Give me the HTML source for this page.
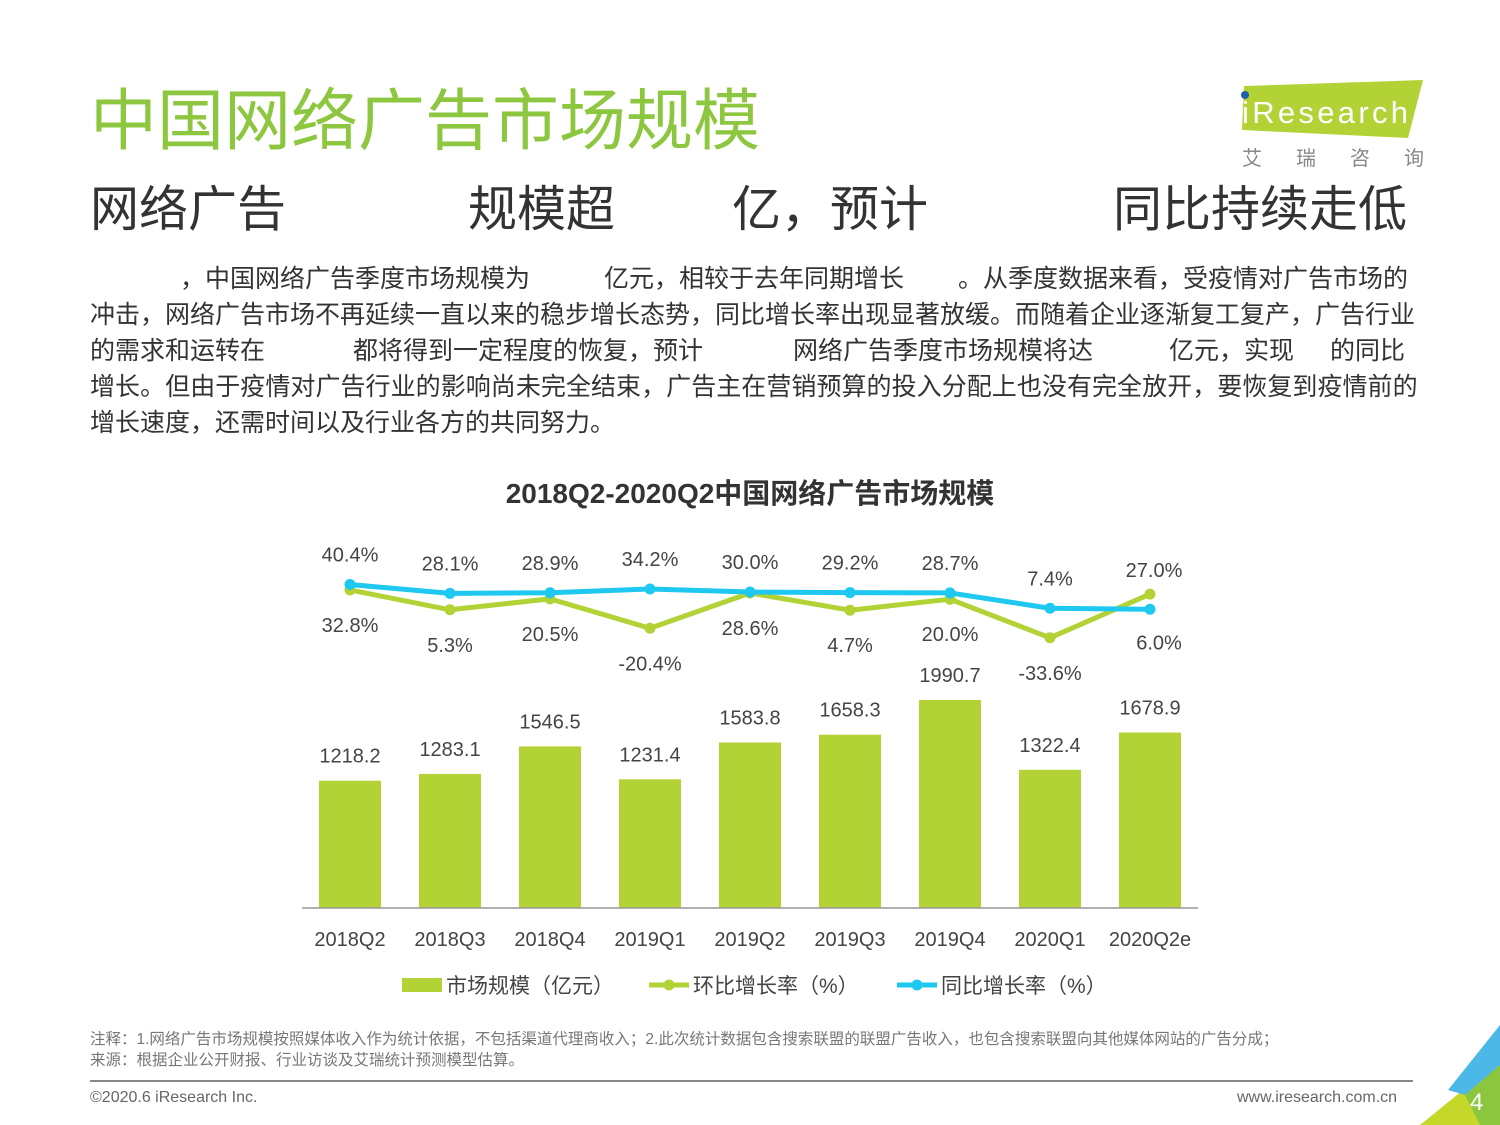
<!DOCTYPE html>
<html><head><meta charset="utf-8">
<style>
body{margin:0;width:1500px;height:1125px;position:relative;background:#fff;overflow:hidden;font-family:"Liberation Sans","Noto Sans CJK SC",sans-serif;color:#333}
.a{position:absolute;white-space:nowrap}
.t{font-size:25px;line-height:36px;color:#333}
.s{font-size:49px;line-height:56px;color:#333}
</style></head><body>
<div class="a" style="left:90px;top:82px;font-size:67px;line-height:80px;color:#8dc63f">中国网络广告市场规模</div>

<svg class="a" style="left:1230px;top:70px" width="270" height="110">
<polygon points="14,16 193,10 178,68 12,60" fill="#b2d235"/>
<circle cx="15" cy="25" r="4" fill="#1d5fa8"/>
<text x="12" y="53" font-size="31" fill="#fff" font-family="Liberation Sans" textLength="166">iResearch</text>
<text x="12" y="95" font-size="20" fill="#888" letter-spacing="34">艾瑞咨询</text>
</svg>

<div>
<span class="a s" style="left:90px;top:182px">网络广告</span>
<span class="a s" style="left:468px;top:182px">规模超</span>
<span class="a s" style="left:732px;top:182px">亿，预计</span>
<span class="a s" style="left:1113px;top:182px">同比持续走低</span>
</div>

<div>
<span class="a t" style="left:180px;top:261px">，中国网络广告季度市场规模为</span>
<span class="a t" style="left:604px;top:261px">亿元，相较于去年同期增长</span>
<span class="a t" style="left:958px;top:261px">。从季度数据来看，受疫情对广告市场的</span>
<span class="a t" style="left:90px;top:297px">冲击，网络广告市场不再延续一直以来的稳步增长态势，同比增长率出现显著放缓。而随着企业逐渐复工复产，广告行业</span>
<span class="a t" style="left:90px;top:333px">的需求和运转在</span>
<span class="a t" style="left:353px;top:333px">都将得到一定程度的恢复，预计</span>
<span class="a t" style="left:793px;top:333px">网络广告季度市场规模将达</span>
<span class="a t" style="left:1169px;top:333px">亿元，实现</span>
<span class="a t" style="left:1330px;top:333px">的同比</span>
<span class="a t" style="left:90px;top:369px;letter-spacing:0.05px">增长。但由于疫情对广告行业的影响尚未完全结束，广告主在营销预算的投入分配上也没有完全放开，要恢复到疫情前的</span>
<span class="a t" style="left:90px;top:405px">增长速度，还需时间以及行业各方的共同努力。</span>
</div>

<div class="a" style="left:0;width:1500px;text-align:center;top:472px;font-size:28px;font-weight:bold;color:#333">2018Q2-2020Q2中国网络广告市场规模</div>

<svg id="chart" class="a" style="left:0;top:0" width="1500" height="1125"></svg>

<div class="a" style="left:90px;top:1029px;font-size:15.5px;line-height:21px;color:#777">注释：1.网络广告市场规模按照媒体收入作为统计依据，不包括渠道代理商收入；2.此次统计数据包含搜索联盟的联盟广告收入，也包含搜索联盟向其他媒体网站的广告分成；<br>来源：根据企业公开财报、行业访谈及艾瑞统计预测模型估算。</div>
<div class="a" style="left:90px;top:1080px;width:1323px;height:2px;background:#888"></div>
<div class="a" style="left:90px;top:1089px;font-size:16px;color:#666">©2020.6 iResearch Inc.</div>
<div class="a" style="left:1237px;top:1089px;font-size:16px;color:#666">www.iresearch.com.cn</div>
<svg class="a" style="left:1380px;top:1010px" width="120" height="115">
<polygon points="40,115 120,50 120,115" fill="#c5d82a"/>
<polygon points="68,80 120,15 120,55 85,85" fill="#4cb8e8"/>
<polygon points="85,85 120,55 120,115 100,115" fill="#8cc63f"/>
<text x="90" y="100" font-size="24" fill="#fff">4</text>
</svg>

<script>
const categories=['2018Q2','2018Q3','2018Q4','2019Q1','2019Q2','2019Q3','2019Q4','2020Q1','2020Q2e'];
const marketSize=[1218.2,1283.1,1546.5,1231.4,1583.8,1658.3,1990.7,1322.4,1678.9];
const qoqGrowth=[32.8,5.3,20.5,-20.4,28.6,4.7,20.0,-33.6,27.0];
const yoyGrowth=[40.4,28.1,28.9,34.2,30.0,29.2,28.7,7.4,6.0];
const svg=document.getElementById('chart');
const NS='http://www.w3.org/2000/svg';
const xC=i=>350+i*100;
const yBar=v=>908-v*0.1045;
const yPct=v=>613.6-v*0.72;
function mk(tag,attrs){const e=document.createElementNS(NS,tag);for(const k in attrs)e.setAttribute(k,attrs[k]);svg.appendChild(e);return e;}
function txt(x,y,s,size,fill){const e=mk('text',{x:x,y:y,'text-anchor':'middle','font-size':size,fill:fill||'#444'});e.textContent=s;return e;}
const fmt=v=>v.toFixed(1);
marketSize.forEach((v,i)=>{
 const r=mk('rect',{x:xC(i)-31,y:yBar(v),width:62,height:908-yBar(v),fill:'#b2d235'});
 
 
 const l=txt(xC(i),yBar(v)-18,fmt(v),20);
 
 
 const c=txt(xC(i),946,categories[i],20);
 
 
});
const ax=mk('line',{x1:302,x2:1198,y1:908,y2:908,stroke:'#999','stroke-width':1.5});


function series(vals,color,name){
 const p=mk('polyline',{points:vals.map((v,i)=>xC(i)+','+yPct(v)).join(' '),fill:'none',stroke:color,'stroke-width':5,'stroke-linejoin':'round'});
 
 
 vals.forEach((v,i)=>{const c=mk('circle',{cx:xC(i),cy:yPct(v),r:5.5,fill:color});
  
  });
}
series(qoqGrowth,'#b2d235','qoq');
series(yoyGrowth,'#1ec8f0','yoy');
const last=categories.length-1;
qoqGrowth.forEach((v,i)=>{
 const y=i===last?yPct(v)-17:yPct(v)+42;
 const l=txt(xC(i)+(i===last?4:0),y,fmt(v)+'%',20);
 
 
});
yoyGrowth.forEach((v,i)=>{
 const y=i===last?yPct(v)+40:yPct(v)-23;
 const l=txt(xC(i)+(i===last?9:0),y,fmt(v)+'%',20);
 
 
});
const lg=[['bar','#b2d235',402,'市场规模（亿元）'],['line','#b2d235',649,'环比增长率（%）'],['line','#1ec8f0',897,'同比增长率（%）']];
lg.forEach(d=>{
 if(d[0]==='bar'){const r=mk('rect',{x:d[2],y:978,width:40,height:14,fill:d[1]});}
 else{const l=mk('line',{x1:d[2],x2:d[2]+40,y1:985,y2:985,stroke:d[1],'stroke-width':5});
  const c=mk('circle',{cx:d[2]+20,cy:985,r:5.5,fill:d[1]});}
 const t=mk('text',{x:d[2]+44,y:993,'font-size':21,fill:'#444'});t.textContent=d[3];
 
 
});
</script>
</body></html>
